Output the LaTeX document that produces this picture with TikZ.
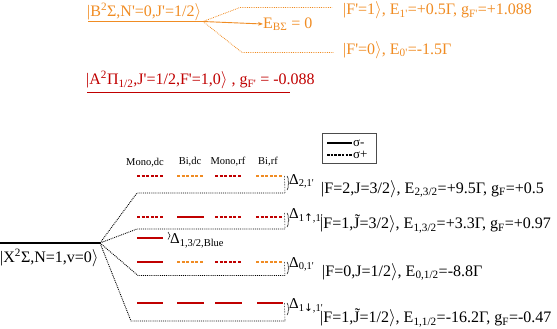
\documentclass[tikz,border=0pt]{standalone}
\usepackage{fontspec}
\setmainfont{Liberation Serif}
\newfontfamily\arrowfont{DejaVu Sans}
\usetikzlibrary{decorations.pathreplacing,arrows.meta}
\definecolor{lvlorange}{RGB}{240,140,35}
\definecolor{lvlred}{RGB}{192,0,0}
\newcommand{\myket}[1]{|#1$\rangle$}
\newcommand{\pr}{\textquotesingle}
\begin{document}
\begin{tikzpicture}[x=1pt,y=-1pt,
  lbl/.style={inner sep=0pt,anchor=west,font=\fontsize{16}{16}\selectfont},
  dlbl/.style={inner sep=0pt,anchor=west,font=\fontsize{15}{15}\selectfont},
  hdr/.style={inner sep=0pt,font=\fontsize{10.5}{10.5}\selectfont},
  fan/.style={densely dotted,line width=0.9pt},
  tick/.style={densely dotted,line width=0.6pt},
  mdash/.style={line width=1.6pt,dash pattern=on 3pt off 1.6pt},
  msolid/.style={line width=2pt},
  brc/.style={decorate,decoration={brace,amplitude=2pt},line width=0.5pt},
  leg/.style={inner sep=0pt,anchor=west,font=\fontsize{13}{13}\selectfont},
]
\useasboundingbox (0,0) rectangle (557,329);
% ---------- B state ----------
\coordinate (bL) at (88,21.5);
\coordinate (bR) at (203,21.5);
\draw[lvlorange,line width=1.2pt] (bL) -- (bR);
\node[lbl,text=lvlorange,anchor=base west] (blab) at (87,16.5) {\myket{B\textsuperscript{2}Σ,N\pr=0,J\pr=1/2}};
\node[lbl,text=lvlorange] (ebs) at (263,24) {E\textsubscript{BΣ} = 0};
\draw[lvlorange,line width=0.9pt,-{Stealth[length=5pt]}] (bR) -- (ebs.west);
\coordinate (f1a) at (240,7.5);
\coordinate (f1b) at (332,7.5);
\coordinate (f0a) at (242,52.5);
\coordinate (f0b) at (334,52.5);
\draw[lvlorange,fan,line width=0.8pt] (bR) -- (f1a) -- (f1b);
\draw[lvlorange,fan,line width=0.8pt] (bR) -- (f0a) -- (f0b);
\node[lbl,text=lvlorange,anchor=base west] (f1lab) at (343,15) {\myket{F\pr=1}, E\textsubscript{1\pr}=+0.5Γ, g\textsubscript{F\pr}=+1.088};
\node[lbl,text=lvlorange] (f0lab) at (343,50) {\myket{F\pr=0}, E\textsubscript{0\pr}=-1.5Γ};
% ---------- A state ----------
\node[lbl,text=lvlred] (alab) at (86,80) {\myket{A\textsuperscript{2}Π\textsubscript{1/2},J\pr=1/2,F\pr=1,0} , g\textsubscript{F\pr} = -0.088};
\coordinate (aL) at (87,92.5);
\coordinate (aR) at (290,92.5);
\draw[lvlred,line width=1pt] (aL) -- (aR);
% ---------- X state ----------
\coordinate (xL) at (0,243);
\coordinate (xf) at (100,243);
\draw[line width=1.2pt] (xL) -- (xf);
\node[lbl] (xlab) at (0,258) {\myket{X\textsuperscript{2}Σ,N=1,v=0}};
% fan lines
\coordinate (l2a) at (137,193);   \coordinate (l2b) at (285,193);
\coordinate (l1ua) at (137,229);  \coordinate (l1ub) at (285,229);
\coordinate (l0a) at (138,275.5); \coordinate (l0b) at (285,275.5);
\coordinate (l1la) at (131,321);  \coordinate (l1lb) at (285,321);
\draw[fan] (xf) -- (l2a) -- (l2b);
\draw[fan] (xf) -- (l1ua) -- (l1ub);
\draw[fan] (xf) -- (l0a) -- (l0b);
\draw[fan] (xf) -- (l1la) -- (l1lb);
% headers
\node[hdr] (h1) at (145,163) {Mono,dc};
\node[hdr] (h2) at (190,162) {Bi,dc};
\node[hdr] (h3) at (228,162) {Mono,rf};
\node[hdr] (h4) at (268,162) {Bi,rf};
% markers F=2
\draw[lvlred,mdash] (137,176) -- (163,176);
\draw[lvlorange,mdash] (177,176) -- (204,176);
\draw[lvlred,mdash] (215,176) -- (241,176);
\draw[lvlorange,mdash] (256,176) -- (282,176);
% markers F=1 upper
\draw[lvlred,mdash] (137,217) -- (163,217);
\draw[lvlred,msolid] (177,217) -- (204,217);
\draw[lvlred,mdash] (215,217) -- (241,217);
\draw[lvlred,mdash] (256,217) -- (282,217);
% blue marker
\draw[lvlred,msolid] (137,238) -- (163,238);
\draw[brc] (168,232) -- (168,239.5);
\node[dlbl] (dblue) at (170,241) {Δ\textsubscript{1,3/2,Blue}};
% markers F=0
\draw[lvlred,msolid] (137,262) -- (163,262);
\draw[lvlorange,mdash] (177,262) -- (204,262);
\draw[lvlred,mdash] (215,262) -- (241,262);
\draw[lvlorange,mdash] (256,262) -- (282,262);
% markers F=1 lower
\draw[lvlred,msolid] (137,303) -- (163,303);
\draw[lvlred,msolid] (177,303) -- (204,303);
\draw[lvlred,msolid] (215,303) -- (242,303);
\draw[lvlred,msolid] (257,303) -- (283,303);
% ticks and braces
\draw[tick] (284.5,176) -- (l2b);
\draw[tick] (284.5,213) -- (l1ub);
\draw[tick] (284.5,262) -- (l0b);
\draw[tick] (284.5,303) -- (l1lb);
\draw[brc] (287,176) -- (287,190);
\draw[brc] (287,213) -- (287,227);
\draw[brc] (287,262) -- (287,274);
\draw[brc] (287,303) -- (287,315);
\node[dlbl] (d2) at (289,181) {Δ\textsubscript{2,1\pr}};
\node[dlbl] (d1u) at (289,216) {Δ\textsubscript{1{\arrowfont ↑},1\pr}};
\node[dlbl] (d0) at (289,264) {Δ\textsubscript{0,1\pr}};
\node[dlbl] (d1l) at (289,306) {Δ\textsubscript{1{\arrowfont ↓},1\pr}};
% state labels
\node[lbl] (s2) at (321,189) {\myket{F=2,J=3/2}, E\textsubscript{2,3/2}=+9.5Γ, g\textsubscript{F}=+0.5};
\node[lbl] (s1u) at (320,224) {\myket{F=1,\~{J}=3/2}, E\textsubscript{1,3/2}=+3.3Γ, g\textsubscript{F}=+0.97};
\node[lbl] (s0) at (322,272) {\myket{F=0,J=1/2}, E\textsubscript{0,1/2}=-8.8Γ};
\node[lbl] (s1l) at (320,318) {\myket{F=1,\~{J}=1/2}, E\textsubscript{1,1/2}=-16.2Γ, g\textsubscript{F}=-0.47};
% legend
\node[draw=black!70,line width=0.8pt,minimum width=54pt,minimum height=30pt,anchor=north west,inner sep=0pt] (legend) at (322,133) {};
\coordinate (lg1a) at (327,143); \coordinate (lg1b) at (352,143);
\coordinate (lg2a) at (327,155); \coordinate (lg2b) at (352,155);
\draw[line width=1.2pt] (lg1a) -- (lg1b);
\draw[line width=1.2pt,dash pattern=on 2.5pt off 1.2pt] (lg2a) -- (lg2b);
\node[leg] (sm) at (353,143) {σ-};
\node[leg] (sp) at (353,155) {σ+};
\end{tikzpicture}
\end{document}
